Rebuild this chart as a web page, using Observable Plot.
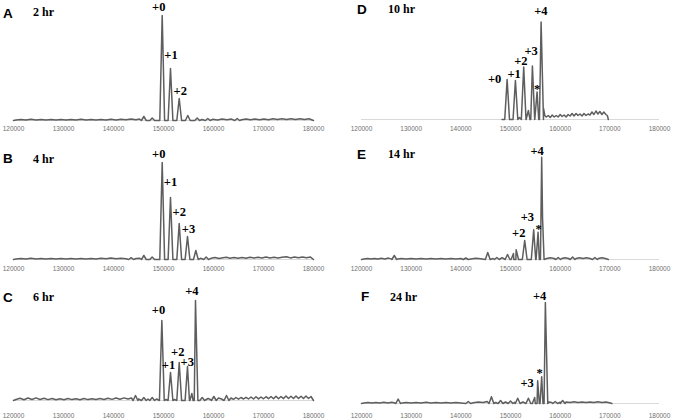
<!DOCTYPE html>
<html><head><meta charset="utf-8">
<script src="https://cdn.jsdelivr.net/npm/d3@7"></script>
<script src="https://cdn.jsdelivr.net/npm/@observablehq/plot@0.6"></script>
<style>
body{margin:0;background:#fff;}
#wrap{position:relative;width:675px;height:418px;overflow:hidden;background:#fff;}
.cell svg{overflow:visible;display:block;}
.cell svg .peaklab text{font-family:"Liberation Serif","Times New Roman",serif;}
#titles{position:absolute;left:0;top:0;pointer-events:none;}
</style></head><body><div id="wrap"></div>
<script>
// ---------- data (mass in Da, intensity in relative units) ----------
const tickValues = [120000,130000,140000,150000,160000,170000,180000];

// Panel A — 2 hr
const peakMassA = [146070,147740,149740,151400,153140,154860,156740,158860,164740];
const peakIntA  = [4,2.5,105,52,22,5,2.5,2,2];
const noiseA = [[120500,0.4],[121500,1],[122500,0.4],[123500,1.3],[124500,0.5],[125500,1],[126500,0.4],[127500,1.1],[128500,0.5],[129500,1],[130500,0.4],[131500,1],[132500,0.5],[133500,1.2],[134500,0.5],[135500,1],[136500,0.5],[137500,1.1],[138500,0.6],[139500,1.2],[140500,0.6],[141500,1.3],[142500,0.7],[143500,1.6],[144500,0.8],[145200,1.4],[157700,1],[159800,1.2],[160800,0.6],[161700,1.5],[162700,0.7],[163600,1.4],[165600,0.8],[166500,1.5],[167400,0.7],[168300,1.4],[169200,0.8],[170100,1.6],[171000,0.8],[171900,1.7],[172800,0.9],[173700,1.8],[174600,1],[175500,1.7],[176400,1],[177300,1.8],[178200,1],[179100,1.7]];
const labelTextA = ["+0","+1","+2"];
const labelMassA = [149060,151500,153340];
const labelIntA  = [109.5,61.7,26];

// Panel B — 4 hr
const peakMassB = [143530,146070,147740,149740,151400,153140,154800,156470,158530];
const peakIntB  = [1.8,4,2.5,97,62,36,23,9,2.5];
const noiseB = [[120500,0.5],[121500,1.1],[122500,0.5],[123500,1.2],[124500,0.5],[125500,1],[126500,0.5],[127500,1.1],[128500,0.5],[129500,1],[130500,0.5],[131500,1.1],[132500,0.6],[133500,1],[134500,0.6],[135500,1.1],[136500,0.6],[137500,1.2],[138500,0.7],[139500,1.6],[140500,0.7],[141500,1.2],[142500,0.8],[144500,1],[145200,1.3],[157400,1.2],[159500,1.2],[160300,2],[161100,1],[161900,1.8],[162600,2.2],[163300,1.2],[164100,1.9],[164900,1.2],[165700,2],[166500,1.3],[167300,2.2],[168100,1.4],[168900,2.3],[169700,1.5],[170500,2.4],[171300,1.5],[172100,2.2],[172900,1.6],[173700,2.3],[174600,2.8],[175400,1.6],[176200,2.4],[177000,1.7],[177800,2.5],[178600,1.7],[179400,2.4]];
const labelTextB = ["+0","+1","+2","+3"];
const labelMassB = [149060,151400,153140,155000];
const labelIntB  = [101.7,73.3,43.7,26.3];

// Panel C — 6 hr
const peakMassC = [144400,146070,147740,149670,151400,153140,154800,155670,156400,157740,160070,162600];
const peakIntC  = [5,3,3,80,28,38,34,7,100,3,4,5];
const noiseC = [[120500,1],[121300,2.2],[122100,0.8],[122900,2.5],[123700,1],[124500,2.6],[125300,1],[126100,2.3],[126900,0.9],[127700,2],[128500,0.8],[129300,1.8],[130100,0.8],[130900,2],[131700,0.9],[132500,1.8],[133300,0.8],[134100,2],[134900,0.9],[135700,1.8],[136500,1],[137300,2],[138100,1],[138900,2.2],[139700,1.1],[140500,2.5],[141300,1.3],[142100,2.6],[142900,1.5],[143600,2.5],[145000,1.5],[146900,1.5],[148600,1.5],[150500,1],[152200,1],[158900,2],[159300,1.2],[161000,2.5],[161600,1.5],[163500,2.5],[164000,1.2],[164500,3],[165000,1.3],[165500,3],[166000,1.5],[166500,3.2],[167000,1.5],[167500,3.5],[168000,1.5],[168500,3.8],[169000,1.6],[169500,3.5],[170000,1.7],[170500,3.8],[171000,1.8],[171500,4],[172000,1.8],[172500,4.2],[173000,1.8],[173500,4],[174000,1.9],[174500,4.5],[175000,2],[175500,4.2],[176000,2],[176500,4.5],[177000,2],[177500,4.3],[178000,2],[178500,4.5],[179000,2],[179500,4]];
const labelTextC = ["+0","+1","+2","+3","+4"];
const labelMassC = [149000,151000,152840,154750,155670];
const labelIntC  = [86.7,31.7,45,34.3,105.7];

// Panel D — 10 hr
const peakMassD = [149320,150990,152660,153600,154410,155350,156160];
const peakIntD  = [40,39,52.6,9,53.6,27.6,97.6];
const noiseD = [[151800,2],[156650,11],[156900,4],[157200,2.5],[157600,4],[158000,2],[158400,4.5],[158800,2.5],[159200,4],[159600,2.5],[160000,5],[160400,3],[160800,4.5],[161200,2.5],[161600,5],[162000,3.5],[162400,6],[162800,3.5],[163200,6],[163600,4],[164000,5.5],[164400,3.5],[164800,6],[165200,4],[165600,5.5],[166000,4.5],[166400,7.5],[166800,5],[167200,8.5],[167600,5.5],[168000,8],[168400,5],[168800,7.5],[169200,5],[169500,4]];
const labelTextD = ["+0","+1","+2","+3","+4","*"];
const labelMassD = [146800,150740,152090,154160,156110,155350];
const labelIntD  = [36.3,41.3,55,65,105,26.2];

// Panel E — 14 hr
const peakMassE = [126600,141000,145420,147250,149400,150600,151140,152860,154670,155550,156280,159600,162500,167000];
const peakIntE  = [4,1.5,7,2,5,6,9.7,19,29.7,27.3,102.3,2,2.5,2];
const noiseE = [[120500,0.5],[121200,1],[121900,0.4],[122600,1.1],[123300,0.5],[124000,1.2],[124700,0.5],[125400,1.4],[126000,0.6],[127300,0.6],[128000,1],[129000,0.4],[130000,1],[131000,0.4],[132000,0.9],[133000,0.4],[134000,1],[135000,0.4],[136000,0.9],[137000,0.4],[138000,1],[139000,0.5],[140000,1],[142000,0.6],[143000,1.2],[144000,0.8],[146500,1],[148300,1.8],[156450,42],[157300,1],[158000,1.8],[158800,1],[160300,1],[161000,1.8],[161700,1],[163200,1],[163900,1.8],[164600,1],[165300,1.7],[166000,1],[167700,1],[168400,1.8],[169100,1]];
const labelTextE = ["+2","+3","*","+4"];
const labelMassE = [151650,153400,155670,155350];
const labelIntE  = [22.3,39,26.5,105];

// Panel F — 24 hr
const peakMassF = [127380,141500,146160,148000,150000,151450,153600,154870,155470,156280,157020,159000,160500];
const peakIntF  = [4.4,2,6.7,3,2.5,5.3,5.3,6,22.7,26.7,101,2,3];
const noiseF = [[120500,0.4],[121300,1],[122100,0.4],[122900,1],[123700,0.5],[124500,1.2],[125300,0.5],[126100,1.3],[126700,0.6],[128200,0.6],[129000,1.1],[130000,0.4],[131000,1],[132000,0.4],[133000,1.2],[134000,0.5],[135000,1],[136000,0.5],[137000,1.1],[138000,0.5],[139000,1],[140000,0.6],[142500,0.8],[143500,1.5],[144500,1],[145300,2],[147000,1],[149000,1.5],[150800,1.2],[152500,1.5],[157700,1.5],[158300,1],[160000,1.2],[161200,1.6],[162000,1],[162800,1.7],[163600,1],[164400,1.6],[165200,1],[166000,1.6],[166800,1.1],[167600,1.8],[168400,1],[169200,1.5],[169900,0.8]];
const labelTextF = ["+3","*","+4"];
const labelMassF = [153340,155870,155870];
const labelIntF  = [16.3,26.9,103.7];

const panelLetters = ["A","B","C","D","E","F"];
const panelTimes   = ["2 hr","4 hr","6 hr","10 hr","14 hr","24 hr"];
const massStart = [120000,120000,120000,148300,120000,120000];
const massEnd   = [180000,180000,180000,169700,169700,170400];

// ---------- layout (base = baseline y inside the cell) ----------
const layout = [
  {left:0,   top:0,   w:337, h:140, ml:13, mr:24, base:120, pad:6,    lx:3,   ly:18.3,  tx:33,  ty:16},
  {left:0,   top:140, w:337, h:140, ml:13, mr:24, base:119, pad:7,    lx:3,   ly:163.3, tx:33,  ty:162.7},
  {left:0,   top:280, w:337, h:138, ml:13, mr:24, base:120, pad:12.5, lx:3,   ly:302.3, tx:33,  ty:301},
  {left:337, top:0,   w:338, h:140, ml:24, mr:16, base:119, pad:7,    lx:357, ly:14.3,  tx:388, ty:12.7},
  {left:337, top:140, w:338, h:140, ml:24, mr:16, base:119, pad:7,    lx:357, ly:159,   tx:388, ty:158.3},
  {left:337, top:280, w:338, h:138, ml:24, mr:16, base:123, pad:10,   lx:361, ly:300.7, tx:390, ty:300.7}
];

const panelData = [
  [peakMassA,peakIntA,noiseA,labelTextA,labelMassA,labelIntA],
  [peakMassB,peakIntB,noiseB,labelTextB,labelMassB,labelIntB],
  [peakMassC,peakIntC,noiseC,labelTextC,labelMassC,labelIntC],
  [peakMassD,peakIntD,noiseD,labelTextD,labelMassD,labelIntD],
  [peakMassE,peakIntE,noiseE,labelTextE,labelMassE,labelIntE],
  [peakMassF,peakIntF,noiseF,labelTextF,labelMassF,labelIntF]
];

const HALF = 480; // peak half-width at base (Da)
function profile(start, end, mass, inten, noise) {
  const pts = [[start,0],[end,0]];
  mass.forEach((m,i) => { pts.push([m-HALF,0],[m,inten[i]],[m+HALF,0]); });
  noise.forEach(p => pts.push(p));
  pts.sort((a,b) => a[0]-b[0]);
  return pts.filter(p => p[0] >= start && p[0] <= end).map(([x,y]) => ({x,y}));
}

const wrap = document.getElementById("wrap");
panelData.forEach((pd, k) => {
  const [pm, pi, nz, lt, lm, li] = pd;
  const L = layout[k];
  const baseLocal = L.base;
  const pts = profile(massStart[k], massEnd[k], pm, pi, nz);
  const labels = lt.map((t,i) => ({t, m: lm[i], i: li[i]}));
  const chart = Plot.plot({
    width: L.w, height: L.h,
    marginLeft: L.ml, marginRight: L.mr,
    marginTop: baseLocal - 100, marginBottom: L.h - baseLocal,
    style: {fontFamily: "Liberation Sans, Arial, sans-serif", background: "transparent"},
    x: {domain: [120000,180000]},
    y: {domain: [0,100], axis: null},
    marks: [
      Plot.ruleY([0], {x1: 120000, x2: 180000, stroke: "#d9d9d9", strokeWidth: 1}),
      Plot.axisX({ticks: tickValues, tickFormat: d => String(d), tickSize: 0, tickPadding: L.pad,
                  fontSize: 6.5, color: "#707070", fontFamily: "Liberation Sans, Arial, sans-serif"}),
      Plot.line(pts, {x: "x", y: "y", stroke: "#5e5e5e", strokeWidth: 1.5, strokeLinejoin: "round"}),
      Plot.text(labels, {x: "m", y: "i", text: "t", fill: "#000", className: "peaklab",
                         fontFamily: "Liberation Serif", fontWeight: "bold", fontSize: 12.5,
                         lineAnchor: "bottom", textAnchor: "middle"})
    ]
  });
  const cell = document.createElement("div");
  cell.className = "cell";
  cell.style.cssText = `position:absolute;left:${L.left}px;top:${L.top}px;width:${L.w}px;height:${L.h}px;`;
  cell.appendChild(chart);
  wrap.appendChild(cell);
});

// panel letters and time titles
const svg = d3.select(wrap).append("svg").attr("id","titles").attr("width",675).attr("height",418);
layout.forEach((L,k) => {
  svg.append("text").attr("x",L.lx).attr("y",L.ly)
    .attr("font-family","Liberation Sans, Arial, sans-serif").attr("font-weight","bold")
    .attr("font-size",13.5).attr("fill","#000").text(panelLetters[k]);
  svg.append("text").attr("x",L.tx).attr("y",L.ty)
    .attr("font-family","Liberation Serif, Times New Roman, serif").attr("font-weight","bold")
    .attr("font-size",12).attr("fill","#000").text(panelTimes[k]);
});
</script>
</body></html>
